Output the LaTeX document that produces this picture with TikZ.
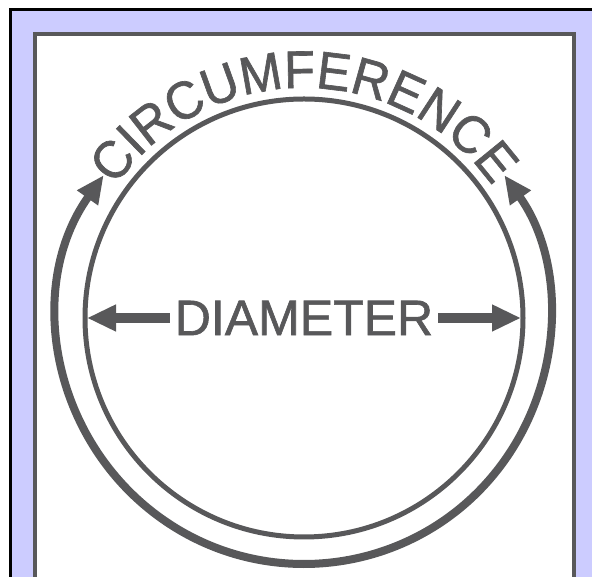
\documentclass[tikz,border=0pt]{standalone}
\usepackage{fontspec}
\setmainfont{Liberation Sans}
\newfontfamily\heavyfont[FakeBold=1.2]{Liberation Sans}
\newfontfamily\arcfont[FakeBold=1.2,FakeStretch=0.95]{Liberation Sans}
\usepackage{tikz}
\usetikzlibrary{arrows.meta,decorations.text}

\definecolor{ink}{HTML}{58585A}
\definecolor{lav}{HTML}{CCCCFF}

\begin{document}
\begin{tikzpicture}[
  x=1pt,
  y=1pt,
  frame/.style={draw=black,line width=3pt,fill=lav},
  sheet/.style={draw=ink,line width=4pt,fill=white},
  rimline/.style={circle,draw=ink,line width=5pt,minimum size=438pt,inner sep=0pt,outer sep=0pt},
  sweep/.style={draw=ink,line width=8pt,{Triangle[length=28pt,width=24pt]}-{Triangle[length=28pt,width=24pt]}},
  dimarrow/.style={draw=ink,line width=10pt,-{Triangle[length=29pt,width=25pt]},shorten >=2pt},
  lab/.style={text=ink,font=\heavyfont\fontsize{50}{50}\selectfont,inner sep=5pt}
]
\useasboundingbox (0,0) rectangle (592,577);
\clip (0,0) rectangle (592,577);
\path[frame] (10,567) rectangle (640,-40);
\path[sheet] (34.5,542.5) rectangle (573.5,-40);
\node[rimline] (rim) at (304,259) {};
\node[lab] (diam) at (rim.center) {DIAMETER};
\path[sweep] (rim.center) ++(144.5:246) arc[start angle=144.5,end angle=395.5,radius=246];
\draw[dimarrow] (diam.west) -- (rim.west);
\draw[dimarrow] (diam.east) -- (rim.east);
\path[decorate,decoration={text along path,text align=center,
  text={|\arcfont\fontsize{53}{53}\selectfont\color{ink}|CIRCUMFERENCE}}]
  (rim.center) ++(170:230) arc[start angle=170,end angle=10,radius=230];
\end{tikzpicture}
\end{document}
